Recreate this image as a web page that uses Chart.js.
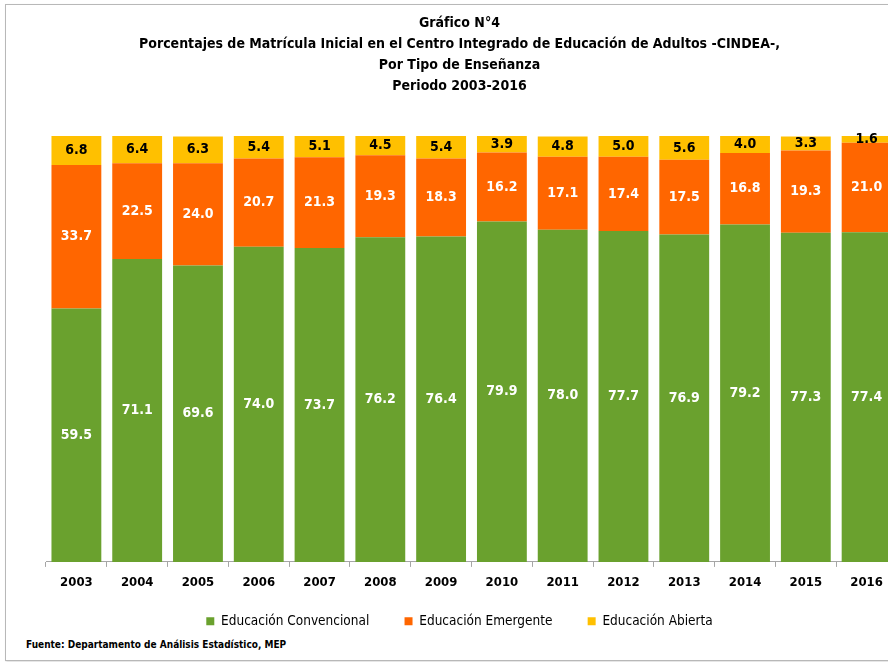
<!DOCTYPE html>
<html lang="es">
<head>
   <meta charset="UTF-8">
   <title>Gráfico N°4 - CINDEA</title>
   <script src="https://cdn.jsdelivr.net/npm/chart.js"></script>
   <style>
       body, html {
           margin: 0;
           padding: 0;
           background-color: white;
           overflow: hidden;
           width: 888px;
           height: 662px;
       }

       .frame {
           position: absolute;
           left: 5px;
           top: 4px;
           width: 900px;
           height: 655px;
           border: 1px solid #b8b8b8;
           box-shadow: 1px 1px 2px rgba(0, 0, 0, 0.15);
           background: white;
       }

       #chart {
           position: absolute;
           left: 0;
           top: 0;
       }

       .fuente {
           position: absolute;
           left: 20px;
           top: 634px;
           font-family: 'Liberation Sans Narrow', 'DejaVu Sans Condensed', sans-serif;
           font-weight: bold;
           font-size: 10px;
           color: #000;
       }
   </style>
</head>
<body>

   <div class="frame">
       <canvas id="chart" width="900" height="633"></canvas>
       <div class="fuente">Fuente: Departamento de Análisis Estadístico, MEP</div>
   </div>

   <script>
    const years = ['2003', '2004', '2005', '2006', '2007', '2008', '2009',
                   '2010', '2011', '2012', '2013', '2014', '2015', '2016'];
    const convencional = [59.5, 71.1, 69.6, 74.0, 73.7, 76.2, 76.4, 79.9, 78.0, 77.7, 76.9, 79.2, 77.3, 77.4];
    const emergente = [33.7, 22.5, 24.0, 20.7, 21.3, 19.3, 18.3, 16.2, 17.1, 17.4, 17.5, 16.8, 19.3, 21.0];
    const abierta = [6.8, 6.4, 6.3, 5.4, 5.1, 4.5, 5.4, 3.9, 4.8, 5.0, 5.6, 4.0, 3.3, 1.6];

    const titleLines = [
        'Gráfico N°4',
        'Porcentajes de Matrícula Inicial en el Centro Integrado de Educación de Adultos -CINDEA-,',
        'Por Tipo de Enseñanza',
        'Periodo 2003-2016'
    ];

    const FONT = "'Liberation Sans Narrow', 'DejaVu Sans Condensed', sans-serif";
    const GAP = '\u00a0\u00a0\u00a0\u00a0\u00a0';

    // labels in the middle of every stacked piece
    const barLabels = {
        id: 'barLabels',
        afterDatasetsDraw(chart) {
            const ctx = chart.ctx;
            ctx.save();
            ctx.font = 'bold 14px ' + FONT;
            ctx.textAlign = 'center';
            ctx.textBaseline = 'middle';
            chart.data.datasets.forEach((ds, i) => {
                const meta = chart.getDatasetMeta(i);
                ctx.fillStyle = i === 2 ? '#000' : '#fff';
                meta.data.forEach((bar, j) => {
                    const y = (bar.y + bar.base) / 2;
                    ctx.fillText(ds.data[j].toFixed(1), bar.x, y);
                });
            });
            ctx.restore();
        }
    };

    const ctx = document.getElementById('chart').getContext('2d');

    const chart = new Chart(ctx, {
        type: 'bar',
        data: {
            labels: years,
            datasets: [{
                label: 'Educación Convencional',
                data: convencional,
                backgroundColor: '#6aa12e'
            }, {
                label: 'Educación Emergente',
                data: emergente,
                backgroundColor: '#ff6600'
            }, {
                label: 'Educación Abierta',
                data: abierta,
                backgroundColor: '#ffc000'
            }]
        },
        options: {
            responsive: false,
            animation: false,
            barPercentage: 0.82,
            categoryPercentage: 1,
            layout: {
                padding: { left: 16, right: 9, top: 0, bottom: 0 }
            },
            scales: {
                x: {
                    stacked: true,
                    border: { display: true, color: '#a6a6a6' },
                    grid: {
                        display: true,
                        drawOnChartArea: false,
                        drawTicks: true,
                        tickLength: 5,
                        color: '#a6a6a6'
                    },
                    ticks: {
                        color: '#000',
                        padding: 8,
                        font: { family: FONT, size: 13, weight: 'bold' }
                    }
                },
                y: {
                    stacked: true,
                    min: 0,
                    max: 100,
                    grid: { display: false },
                    border: { display: false },
                    ticks: { display: false },
                    afterFit(scale) {
                        scale.width = 24;
                    }
                }
            },
            plugins: {
                title: {
                    display: true,
                    text: titleLines,
                    color: '#000',
                    font: { family: FONT, size: 14, weight: 'bold', lineHeight: 1.5 },
                    padding: { top: 8, bottom: 39 }
                },
                legend: {
                    position: 'bottom',
                    labels: {
                        color: '#000',
                        boxWidth: 8,
                        boxHeight: 8,
                        padding: 16,
                        font: { family: FONT, size: 13.5 },
                        generateLabels(chart) {
                            const items = Chart.defaults.plugins.legend.labels.generateLabels(chart);
                            items.forEach((it, i) => {
                                if (i < items.length - 1) it.text += GAP;
                            });
                            return items;
                        }
                    }
                },
                tooltip: { enabled: false }
            }
        },
        plugins: [barLabels]
    });
   </script>
</body>
</html>
